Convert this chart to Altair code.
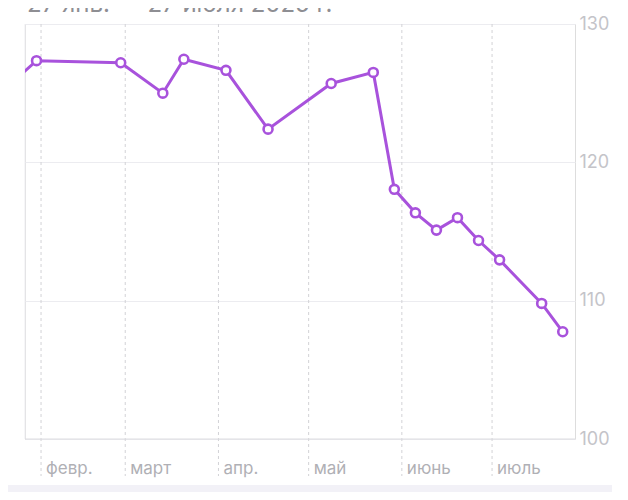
import altair as alt
import pandas as pd

# ---- data ----
dates = ["2025-01-23T12:00:00", "2025-01-30T12:00:00", "2025-02-27T12:00:00", "2025-03-13T12:00:00",
         "2025-03-20T12:00:00", "2025-04-03T12:00:00", "2025-04-17T12:00:00", "2025-05-08T12:00:00",
         "2025-05-22T12:00:00", "2025-05-29T12:00:00", "2025-06-05T12:00:00", "2025-06-12T12:00:00",
         "2025-06-19T12:00:00", "2025-06-26T12:00:00", "2025-07-03T12:00:00", "2025-07-17T12:00:00",
         "2025-07-24T12:00:00"]
weights = [126.0, 127.35, 127.2, 125.0, 127.45, 126.65, 122.4, 125.7, 126.5, 118.05, 116.35,
           115.1, 116.0, 114.35, 112.95, 109.8, 107.75]

month_starts = ["2025-02-01T00:00:00", "2025-03-01T00:00:00", "2025-04-01T00:00:00",
                "2025-05-01T00:00:00", "2025-06-01T00:00:00", "2025-07-01T00:00:00"]
month_labels = ["февр.", "март", "апр.", "май", "июнь", "июль"]

y_ticks = [100, 110, 120, 130]
title_text = "27 янв. — 27 июля 2025 г."

df = pd.DataFrame({"date": dates, "weight": weights})
months = pd.DataFrame({"date": month_starts, "label": month_labels})

PURPLE = "#a852dc"
FONT = "Inter"

xscale = alt.Scale(domain=[alt.DateTime(year=2025, month=1, date=26, hours=16),
                           alt.DateTime(year=2025, month=7, date=28, hours=14)])
yscale = alt.Scale(domain=[100, 130], nice=False, zero=False)

W, H = 550, 415

strip = alt.Chart(pd.DataFrame({"a": [0]})).mark_rect(color="#f2f1f7").encode(
    x=alt.value(-17), x2=alt.value(W + 37), y=alt.value(461), y2=alt.value(468)
)

left_edge = alt.Chart(pd.DataFrame({"a": [0]})).mark_rule(color="#ececf0", strokeWidth=1).encode(
    x=alt.value(0), y=alt.value(0), y2=alt.value(H)
)

vrules = alt.Chart(months).mark_rule(color="#d2d2d6", strokeDash=[3, 3], strokeWidth=1).encode(
    x=alt.X("date:T", scale=xscale, axis=None),
    y=alt.value(0), y2=alt.value(452)
)

mlabels = alt.Chart(months).mark_text(align="left", baseline="middle", dx=5, fontSize=17,
                                      font=FONT, color="#b0b0b5").encode(
    x=alt.X("date:T", scale=xscale, axis=None),
    y=alt.value(445),
    text="label:N"
)

base_line = alt.Chart(pd.DataFrame({"v": [100]})).mark_rule(color="#dcdce0", strokeWidth=1).encode(
    y=alt.Y("v:Q", scale=yscale), x=alt.value(0), x2=alt.value(W)
)

line = alt.Chart(df).mark_line(color=PURPLE, strokeWidth=3, clip=True).encode(
    x=alt.X("date:T", scale=xscale, axis=None),
    y=alt.Y("weight:Q", scale=yscale,
            axis=alt.Axis(orient="right", values=y_ticks, grid=True, gridColor="#ececf0",
                          domain=False, ticks=False, labelPadding=4, labelFontSize=18,
                          labelFont=FONT, labelColor="#c4c4c9", title=None))
)

points = alt.Chart(df).mark_point(shape="circle", filled=False, fill="white", fillOpacity=1,
                                  color=PURPLE, strokeWidth=2.6, size=80, opacity=1,
                                  clip=True).encode(
    x=alt.X("date:T", scale=xscale, axis=None),
    y=alt.Y("weight:Q", scale=yscale)
)

title = alt.Chart(pd.DataFrame({"t": [title_text]})).mark_text(
    align="left", baseline="alphabetic", fontSize=24, font=FONT, color="#8e8e93"
).encode(x=alt.value(2), y=alt.value(-12), text="t:N")

chart = alt.layer(strip, left_edge, vrules, mlabels, base_line, line, points, title).properties(
    width=W, height=H,
    autosize=alt.AutoSizeParams(type="none"),
    padding={"left": 17, "top": 16, "right": 37, "bottom": 53},
).configure_view(stroke=None).configure(background="white")

chart.save("out.html", embed_options={"renderer": "svg", "actions": False})
